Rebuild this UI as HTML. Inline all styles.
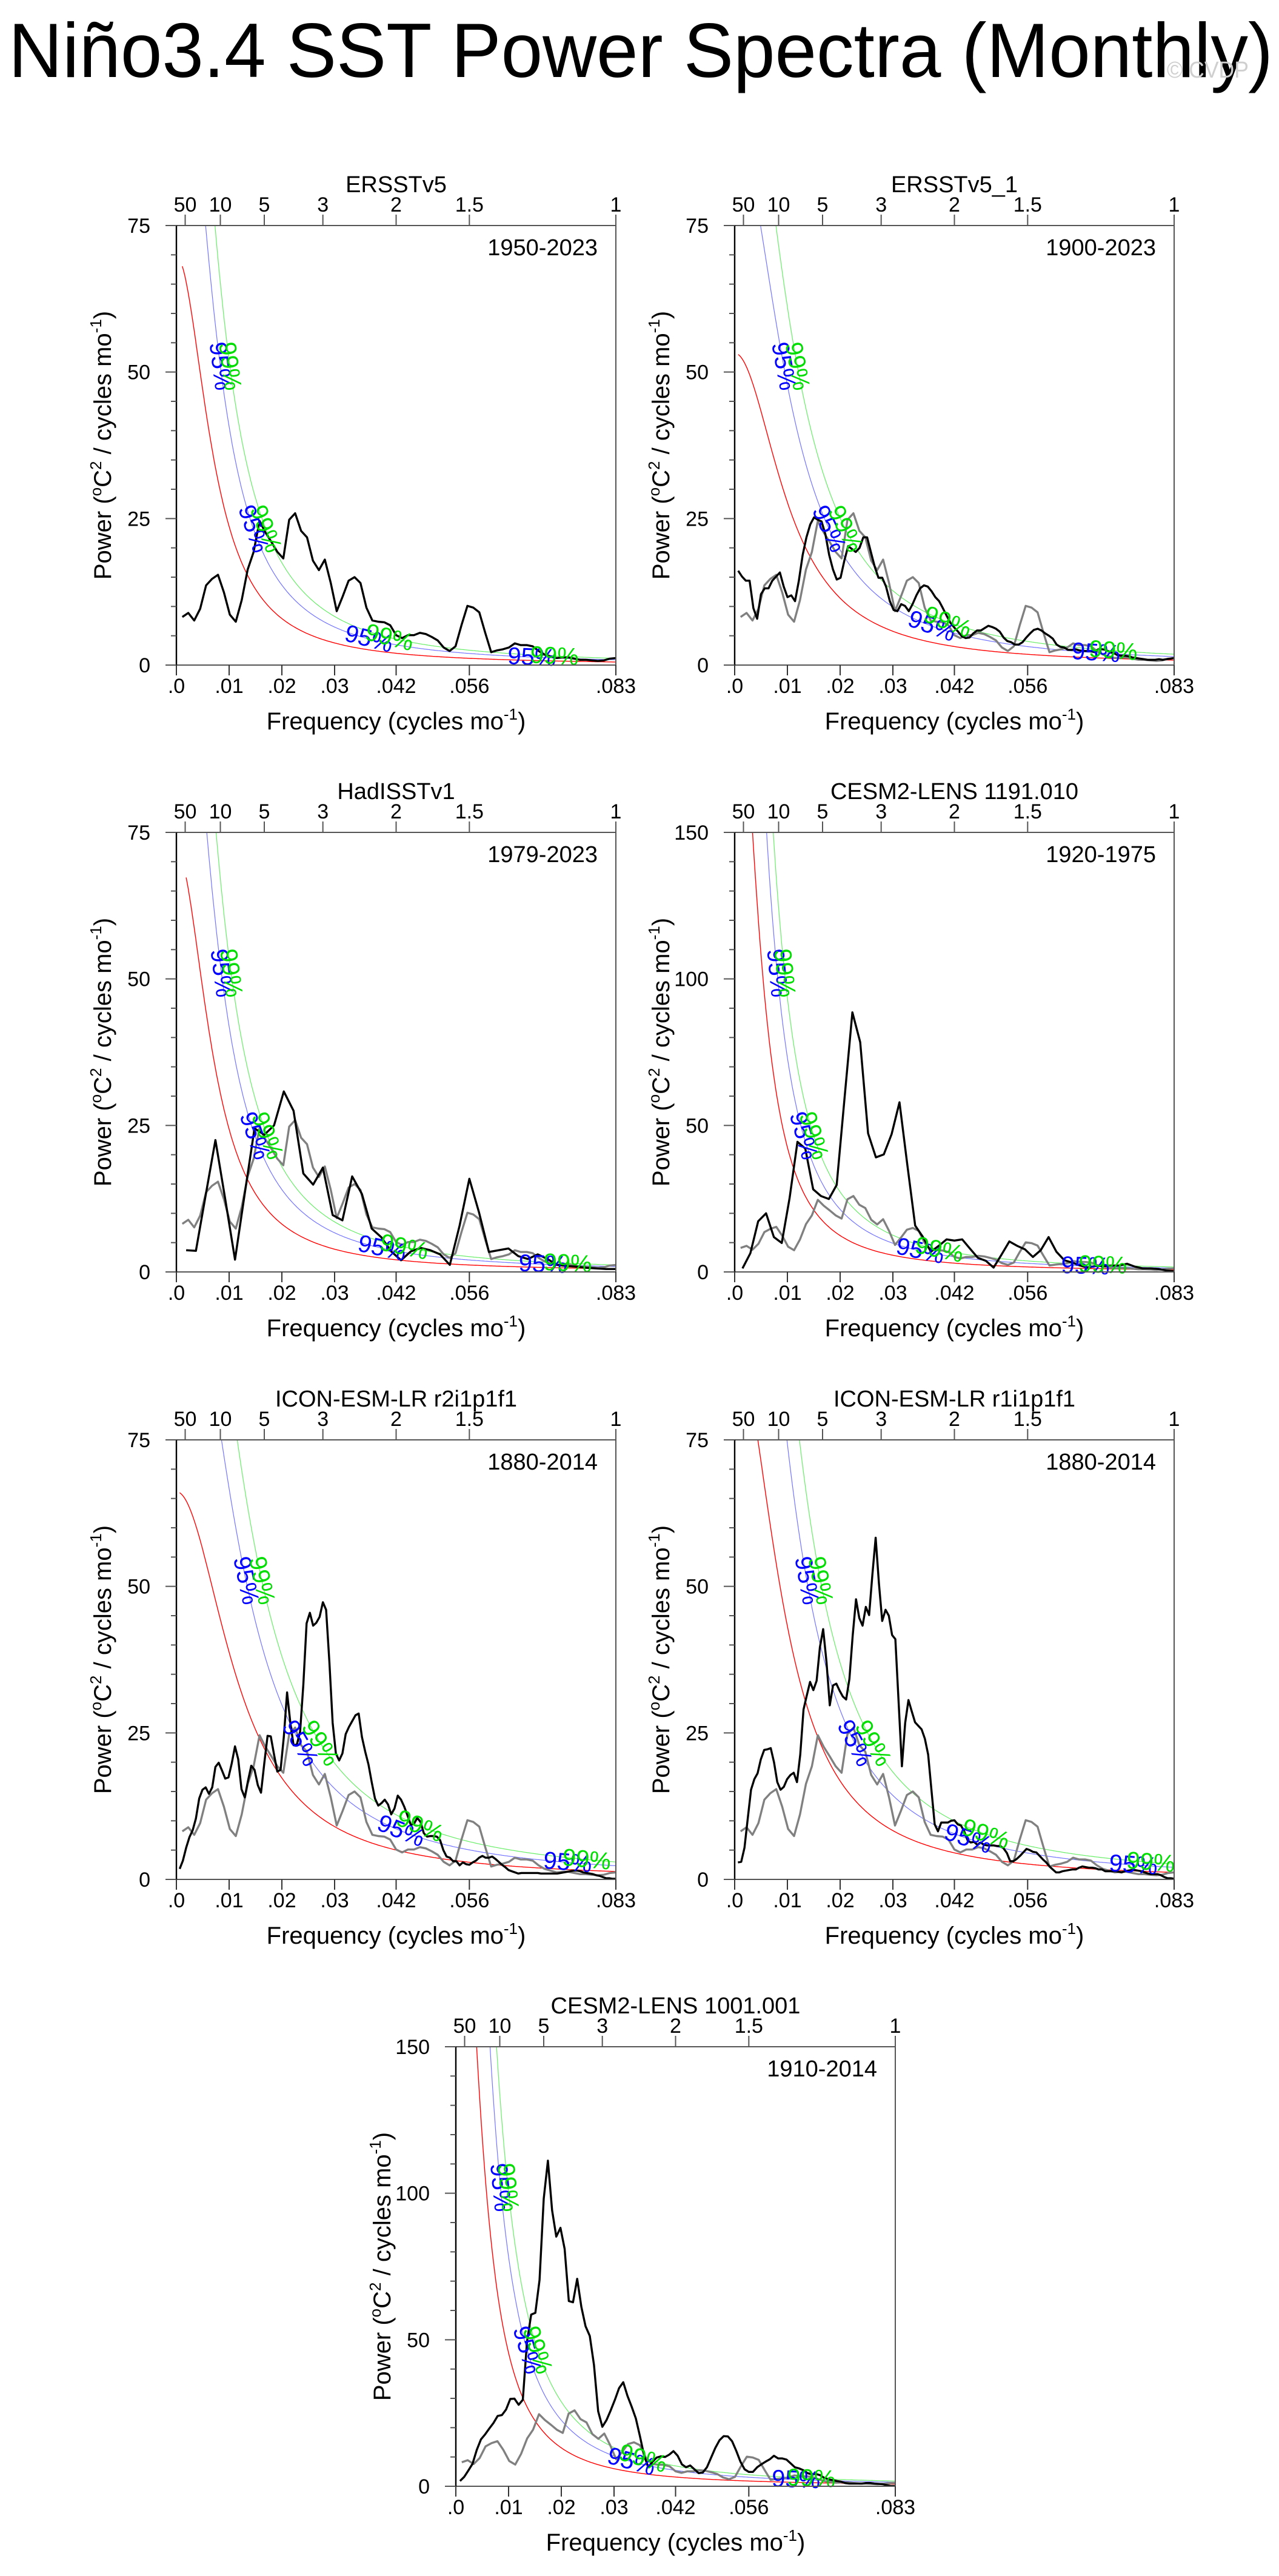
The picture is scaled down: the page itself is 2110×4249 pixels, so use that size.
<!DOCTYPE html>
<html><head><meta charset="utf-8"><title>Niño3.4 SST Power Spectra (Monthly)</title>
<style>
html,body{margin:0;padding:0;background:#fff;}
svg{display:block;font-family:"Liberation Sans",Arial,sans-serif;}
</style></head>
<body>
<svg id="fig" xmlns="http://www.w3.org/2000/svg" width="2110" height="4249" viewBox="0 0 2110 4249">
<rect x="0" y="0" width="2110" height="4249" fill="#fff"/>
<text x="14" y="127" font-size="127" textLength="2086" lengthAdjust="spacingAndGlyphs" fill="#000">Niño3.4 SST Power Spectra (Monthly)</text>
<text x="1925" y="128" font-size="38" fill="#cfcfcf" textLength="135" lengthAdjust="spacingAndGlyphs">© CVDP</text>
</svg>
<script>
// ---- data (power, °C^2 / cycles mo^-1), uniform frequency grid from 1/nMonths to 1/12 ----
const obsPower = [8.2,8.9,7.6,9.6,13.6,14.7,15.4,12.4,8.6,7.4,11.1,16.3,19.3,24.6,22.6,21.0,19.3,18.2,24.8,25.9,22.9,21.8,17.8,16.2,18.0,14.0,9.2,11.7,14.4,15.0,14.0,9.8,7.6,7.4,7.3,6.8,5.1,4.6,5.1,5.1,5.5,5.3,4.8,4.2,3.0,2.4,3.2,6.8,10.1,9.8,9.0,5.5,2.2,2.5,2.7,3.0,3.7,3.4,3.4,3.2,2.4,1.8,1.5,1.2,1.3,1.3,1.1,0.9,0.9,0.8,0.7,0.8,1.1,1.2];
const ersstLongPower = [16.1,15.1,14.4,14.4,9.7,7.9,12.1,13.1,13.1,14.4,15.1,15.8,13.4,11.6,11.9,10.9,14.4,18.8,21.8,24.0,25.2,24.8,24.5,22.3,18.8,16.3,14.6,14.9,17.8,20.3,19.8,19.3,20.0,21.8,21.8,19.3,16.8,14.9,14.9,13.4,10.9,9.4,9.2,10.4,10.1,9.2,10.4,11.9,13.1,13.6,13.4,12.6,11.6,10.9,9.7,8.4,7.2,6.4,5.7,4.9,4.6,4.7,5.4,5.9,5.9,6.3,6.7,6.5,6.2,5.7,4.7,4.1,3.9,3.5,3.5,3.9,4.7,5.4,6.0,6.2,5.9,5.4,5.0,4.5,3.5,3.1,3.0,2.6,2.6,2.7,2.5,2.4,2.4,2.4,2.2,2.7,2.7,2.6,2.2,2.1,1.7,1.6,1.6,1.5,1.3,1.2,1.1,1.0,0.9,0.9,0.9,1.0,0.9,1.0,1.1,1.2];
const hadPower = [3.7,3.6,13.1,22.5,12.4,2.1,13.4,24.5,23.4,25.0,30.8,27.5,16.8,14.9,17.8,9.7,8.8,16.3,13.3,7.4,5.9,3.5,2.0,3.5,4.1,3.7,3.0,1.2,7.9,15.9,10.1,3.4,3.7,4.0,2.7,2.2,3.0,2.2,1.2,1.0,0.9,0.7,0.6,0.5,0.5];
const cesm1191Power = [1.2,6.4,17.3,20.0,11.9,9.9,25.2,44.4,42.1,28.2,25.9,24.9,29.7,59.4,88.6,78.4,47.3,39.1,40.1,47.0,57.9,36.6,15.8,11.9,6.9,8.9,11.1,10.7,11.1,7.9,4.8,3.8,1.5,5.9,10.4,8.9,7.7,5.1,7.4,11.9,6.9,4.0,3.2,2.2,1.5,2.0,2.0,2.2,2.2,2.8,1.8,1.2,1.2,1.0,0.5,0.2];
const iconR2Power = [1.8,3.2,5.4,7.2,8.4,10.4,13.8,15.3,15.7,14.6,15.7,19.2,19.9,18.6,17.2,17.4,19.8,22.7,20.5,15.4,14.0,16.8,19.4,18.7,16.1,14.8,19.8,24.5,24.4,21.3,18.4,18.7,24.3,31.9,26.7,22.9,23.0,25.2,33.2,43.7,45.5,43.3,43.8,44.8,47.3,46.0,37.1,26.7,21.5,20.3,21.5,24.8,26.0,27.0,28.0,28.3,24.3,21.8,19.6,16.6,13.8,12.6,13.0,13.6,12.8,11.1,12.1,14.3,13.6,12.4,10.9,9.3,9.5,10.5,9.8,7.9,7.3,7.4,7.4,7.3,6.7,5.0,3.9,3.7,3.1,3.1,2.4,2.9,2.6,2.5,2.9,3.2,3.7,4.0,3.7,3.7,3.9,3.5,3.0,2.5,2.1,1.6,1.4,1.2,1.0,1.1,1.1,1.1,1.1,1.1,1.1,1.0,1.0,1.0,1.0,1.0,1.0,1.1,1.2,1.3,1.4,1.5,1.5,1.4,1.2,1.1,1.0,0.9,0.7,0.6,0.4,0.2,0.2,0.1,0.1];
const iconR1Power = [2.9,3.0,5.4,10.4,15.3,17.1,18.1,20.5,22.1,22.2,22.4,20.0,16.6,15.3,15.8,17.1,17.8,18.2,16.6,21.3,29.0,31.4,33.7,32.3,33.9,39.6,42.7,37.1,29.7,33.1,33.4,32.2,31.2,30.7,34.2,41.6,47.8,44.6,43.3,46.5,45.1,52.0,58.3,50.5,44.1,46.0,45.0,41.7,41.0,30.2,19.3,26.7,30.6,28.7,26.8,26.2,25.6,24.0,21.3,15.3,9.4,8.2,9.7,9.7,9.7,10.0,10.1,9.4,9.2,8.2,6.7,6.3,6.4,5.9,6.3,5.9,5.8,5.8,5.8,5.7,5.7,5.3,4.5,3.1,3.1,3.5,4.0,4.6,5.2,5.0,4.7,4.6,4.0,3.4,2.9,2.2,1.7,1.2,1.2,1.4,1.5,1.6,1.7,1.7,2.0,2.2,2.1,2.0,2.0,1.9,1.7,1.7,1.4,1.4,1.4,1.4,1.3,1.2,1.4,1.5,1.6,1.6,1.5,1.4,1.2,1.0,0.9,0.9,0.9,0.7,0.4,0.2,0.2,0.1];
const cesm1001Power = [1.8,3.2,5.4,7.7,12.4,16.0,17.7,19.7,21.6,24.0,24.3,26.2,29.8,29.9,27.8,29.5,49.3,58.6,59.2,70.4,98.1,111.1,94.2,85.2,88.2,81.0,63.2,62.8,70.8,61.2,54.6,51.3,41.4,25.6,20.3,22.6,25.9,29.5,33.5,35.5,30.9,27.2,23.2,17.0,10.4,6.5,8.4,9.8,10.2,10.0,10.8,12.0,10.4,7.5,6.5,7.1,5.8,4.5,4.7,6.5,9.8,13.1,15.7,17.1,17.0,15.4,12.1,8.4,5.8,4.9,4.9,6.5,7.5,8.4,9.2,10.4,9.5,9.5,9.1,7.8,6.5,6.1,5.5,4.5,4.1,4.2,3.8,2.9,2.4,2.1,1.8,1.6,1.1,0.9,0.9,0.9,0.9,1.1,1.1,0.9,0.8,0.7,0.4,0.1,0.1];
const panelMonths = [888, 1488, 540, 672, 1620, 1620, 1260];
const obsMonths = 888;
const periodTicks = [50, 10, 5, 3, 2, 1.5, 1];
const periodLabels = ["50", "10", "5", "3", "2", "1.5", "1"];
const freqTicks = [0, 0.01, 0.02, 0.03, 1/24, 1/18, 1/12];
const freqLabels = [".0", ".01", ".02", ".03", ".042", ".056", ".083"];
const panelTitles = ["ERSSTv5", "ERSSTv5_1", "HadISSTv1", "CESM2-LENS 1191.010", "ICON-ESM-LR r2i1p1f1", "ICON-ESM-LR r1i1p1f1", "CESM2-LENS 1001.001"];
const panelDates = ["1950-2023", "1900-2023", "1979-2023", "1920-1975", "1880-2014", "1880-2014", "1910-2014"];
const panelYMax = [75, 75, 75, 150, 75, 75, 150];
const redA = [0.135, 0.2146, 0.139, 0.201, 0.343, 0.306, 0.2115];
const redR = [0.956, 0.9365, 0.956, 0.970, 0.928, 0.942, 0.9715];
const conf95 = 1.72, conf99 = 2.2;
// label placement: first two at value levels (fraction of y-range), last two at frequencies
const labLevelFrac = [0.68, 0.31];
const lab95Freq = [[.0365,.0674],[.0374,.0685],[.039,.0695],[.0352,.0665],[.0426,.0742],[.0443,.0756],[.0333,.0645]];
const lab99Freq = [[.0404,.0717],[.0404,.0718],[.0432,.0742],[.0388,.0698],[.0462,.0778],[.0476,.0789],[.0355,.0674]];

const seriesList = [obsPower, ersstLongPower, hadPower, cesm1191Power, iconR2Power, iconR1Power, cesm1001Power];
const layoutL = [291, 1212, 291, 1212, 291, 1212, 752];
const layoutT = [372, 372, 1373, 1373, 2375, 2375, 3376];
const SIZE = 725, FMAX = 1/12;
const NS = "http://www.w3.org/2000/svg";
const svg = document.getElementById('fig');

function mk(parent, tag, attrs, text) {
  const e = document.createElementNS(NS, tag);
  for (const k in attrs) e.setAttribute(k, attrs[k]);
  if (text !== undefined) e.textContent = text;
  parent.appendChild(e);
  return e;
}
function freqGrid(n, months) {
  const f0 = 1 / months, out = [];
  for (let k = 0; k < n; k++) out.push(n > 1 ? f0 + k * (FMAX - f0) / (n - 1) : f0);
  return out;
}

function drawPanel(p) {
  const L = layoutL[p], T = layoutT[p], ymax = panelYMax[p];
  const xs = f => L + f / FMAX * SIZE;
  const ys = v => T + SIZE - v / ymax * SIZE;
  const g = mk(svg, 'g', {});
  
  

  const clipId = 'clip' + p;
  const cp = mk(g, 'clipPath', {id: clipId});
  mk(cp, 'rect', {x: L, y: T, width: SIZE, height: SIZE});

  const tt = mk(g, 'text', {x: L + SIZE / 2, y: T - 55, 'font-size': 38, 'text-anchor': 'middle'}, panelTitles[p]);
  
  
  const dt = mk(g, 'text', {x: L + SIZE - 30, y: T + 49, 'font-size': 38, 'text-anchor': 'end'}, panelDates[p]);
  
  

  const cg = mk(g, 'g', {'clip-path': 'url(#' + clipId + ')'});
  
  
  const fLo = 1 / panelMonths[p];
  const red = f => redA[p] / (1 + redR[p] * redR[p] - 2 * redR[p] * Math.cos(2 * Math.PI * f));
  const curve = (mult) => {
    let d = '';
    for (let i = 0; i <= 400; i++) {
      const f = fLo + i * (FMAX - fLo) / 400;
      const v = Math.min(red(f) * mult, ymax * 3);
      d += (i ? 'L' : 'M') + xs(f).toFixed(1) + ',' + ys(v).toFixed(1);
    }
    return d;
  };
  const rc = mk(cg, 'path', {d: curve(1), fill: 'none', stroke: '#ff0000', 'stroke-width': 1.4});
  
  
  const bc = mk(cg, 'path', {d: curve(conf95), fill: 'none', stroke: '#7373ff', 'stroke-width': 1.2});
  
  
  const gc = mk(cg, 'path', {d: curve(conf99), fill: 'none', stroke: '#66ee66', 'stroke-width': 1.2});
  
  

  if (p > 0) {
    const of = freqGrid(obsPower.length, obsMonths);
    let d = '';
    obsPower.forEach((v, i) => { d += (i ? 'L' : 'M') + xs(of[i]).toFixed(1) + ',' + ys(v).toFixed(1); });
    const gl = mk(cg, 'path', {d: d, fill: 'none', stroke: '#808080', 'stroke-width': 3.4, 'stroke-linejoin': 'round'});
    
    
  }
  const data = seriesList[p];
  const fr = freqGrid(data.length, panelMonths[p]);
  let d = '';
  data.forEach((v, i) => { d += (i ? 'L' : 'M') + xs(fr[i]).toFixed(1) + ',' + ys(v).toFixed(1); });
  const bl = mk(cg, 'path', {d: d, fill: 'none', stroke: '#000', 'stroke-width': 3.4, 'stroke-linejoin': 'round'});
  
  

  const solveF = (target, mult) => {
    let a = fLo, b = FMAX;
    if (red(a) * mult < target) return a;
    for (let i = 0; i < 60; i++) { const m = (a + b) / 2; if (red(m) * mult > target) a = m; else b = m; }
    return (a + b) / 2;
  };
  const addLab = (f, mult, txt, col, nm) => {
    const x0 = xs(f - 0.0004), y0 = ys(red(f - 0.0004) * mult);
    const x1 = xs(f + 0.0004), y1 = ys(red(f + 0.0004) * mult);
    const x = xs(f), y = ys(red(f) * mult);
    if (y < T + 10) return;
    const ang = Math.atan2(y1 - y0, x1 - x0) * 180 / Math.PI;
    const t = mk(g, 'text', {x: x, y: y, 'font-size': 40, fill: col, 'text-anchor': 'middle', 'dominant-baseline': 'central', transform: 'rotate(' + ang.toFixed(1) + ' ' + x.toFixed(1) + ' ' + y.toFixed(1) + ')'}, txt);
    
    
  };
  labLevelFrac.forEach(fr0 => {
    addLab(solveF(fr0 * ymax, conf95), conf95, '95%', '#0000ff', 'label-95-percent');
    addLab(solveF(fr0 * ymax, conf99), conf99, '99%', '#00dd00', 'label-99-percent');
  });
  lab95Freq[p].forEach(f => addLab(f, conf95, '95%', '#0000ff', 'label-95-percent'));
  lab99Freq[p].forEach(f => addLab(f, conf99, '99%', '#00dd00', 'label-99-percent'));

  const fr1 = mk(g, 'rect', {x: L, y: T, width: SIZE, height: SIZE, fill: 'none', stroke: '#555', 'stroke-width': 2});
  
  
  const la = mk(g, 'line', {x1: L, y1: T, x2: L, y2: T + SIZE, stroke: '#000', 'stroke-width': 2.4});
  
  

  const major = ymax / 3, minor = ymax === 150 ? 10 : 5;
  for (let v = 0; v <= ymax + 1e-6; v += minor) {
    const isMaj = Math.abs(v / major - Math.round(v / major)) < 1e-6;
    const tk = mk(g, 'line', {x1: L - (isMaj ? 18 : 9), y1: ys(v), x2: L, y2: ys(v), stroke: '#555', 'stroke-width': 2});
    
    
    if (isMaj) {
      const tl = mk(g, 'text', {x: L - 43, y: ys(v) + 12, 'font-size': 34, 'text-anchor': 'end'}, String(Math.round(v)));
      
      
    }
  }
  freqTicks.forEach((f, i) => {
    const tk = mk(g, 'line', {x1: xs(f), y1: T + SIZE, x2: xs(f), y2: T + SIZE + 17, stroke: '#333', 'stroke-width': 2});
    
    
    const tl = mk(g, 'text', {x: xs(f), y: T + SIZE + 46, 'font-size': 34, 'text-anchor': 'middle'}, freqLabels[i]);
    
    
  });
  periodTicks.forEach((P, i) => {
    const f = 1 / (12 * P);
    const tk = mk(g, 'line', {x1: xs(f), y1: T, x2: xs(f), y2: T - 18, stroke: '#555', 'stroke-width': 2});
    
    
    const tl = mk(g, 'text', {x: xs(f), y: T - 23, 'font-size': 34, 'text-anchor': 'middle'}, periodLabels[i]);
    
    
  });
  const xt = mk(g, 'text', {x: L + SIZE / 2, y: T + SIZE + 106, 'font-size': 40, 'text-anchor': 'middle'});
  
  
  mk(xt, 'tspan', {}, 'Frequency (cycles mo');
  mk(xt, 'tspan', {dy: -16, 'font-size': 26}, '-1');
  mk(xt, 'tspan', {dy: 16}, ')');
  const cx = L - 108, cy = T + SIZE / 2;
  const yt = mk(g, 'text', {x: cx, y: cy, 'font-size': 40, 'text-anchor': 'middle', transform: 'rotate(-90 ' + cx + ' ' + cy + ')'});
  
  
  mk(yt, 'tspan', {}, 'Power (');
  mk(yt, 'tspan', {dy: -16, 'font-size': 26}, 'o');
  mk(yt, 'tspan', {dy: 16}, 'C');
  mk(yt, 'tspan', {dy: -16, 'font-size': 26}, '2');
  mk(yt, 'tspan', {dy: 16}, ' / cycles mo');
  mk(yt, 'tspan', {dy: -16, 'font-size': 26}, '-1');
  mk(yt, 'tspan', {dy: 16}, ')');
}
for (let p = 0; p < 7; p++) drawPanel(p);
</script>
</body></html>
